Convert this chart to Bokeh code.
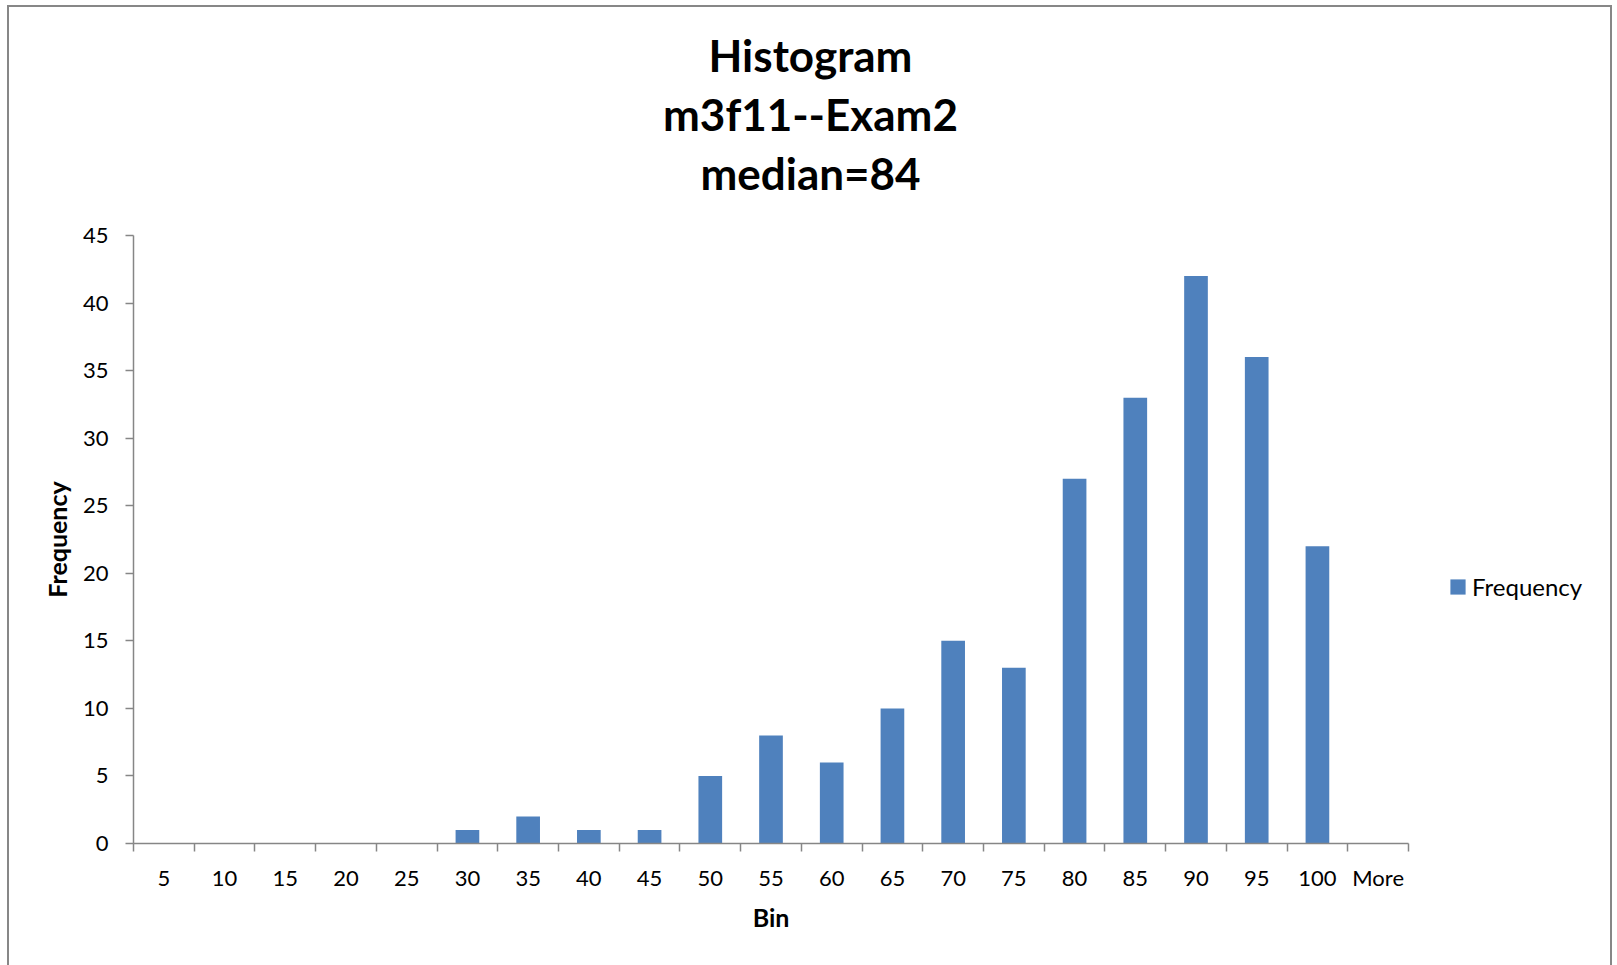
from bokeh.plotting import figure
from bokeh.models import (ColumnDataSource, FixedTicker, Label, Legend, LegendItem,
                          Range1d)
from bokeh.embed import file_html
from bokeh.resources import INLINE

# ---- data ----
bins = ["5", "10", "15", "20", "25", "30", "35", "40", "45", "50", "55",
        "60", "65", "70", "75", "80", "85", "90", "95", "100", "More"]
frequency = [0, 0, 0, 0, 0, 1, 2, 1, 1, 5, 8, 6, 10, 15, 13, 27, 33, 42, 36, 22, 0]
title_lines = ["Histogram", "m3f11--Exam2", "median=84"]
y_ticks = [0, 5, 10, 15, 20, 25, 30, 35, 40, 45]

FONT = "Lato"
AXIS_GREY = "#868686"
BAR_BLUE = "#4F81BD"
BORDER = "#878787"

n = len(bins)
centers = [2 * i + 1 for i in range(n)]
boundaries = [2 * i for i in range(n + 1)]

src = ColumnDataSource(dict(x=centers, top=frequency, bin=bins))

p = figure(width=1617, height=965,
           frame_width=1275, frame_height=608,
           x_range=Range1d(0, 2 * n), y_range=Range1d(0, 45),
           output_backend="svg", toolbar_location=None,
           min_border_left=133, min_border_right=209,
           min_border_top=235, min_border_bottom=122)
# chart-area border (left, top, right; bottom edge lies below the window)
g = f"linear-gradient({BORDER},{BORDER})"
p.styles = {"background": (f"{g} 7px 5px / 2px 100% no-repeat, "
                           f"{g} 7px 5px / 1605px 2px no-repeat, "
                           f"{g} 1610px 5px / 2px 100% no-repeat, white")}
p.outline_line_color = None
p.xgrid.grid_line_color = None
p.ygrid.grid_line_color = None
p.background_fill_color = None
p.border_fill_color = None

r = p.vbar(x="x", top="top", bottom=0, width=0.78, source=src,
           fill_color=BAR_BLUE, line_color=None)

# x axis: labels at centres, tick marks at category boundaries
xa = p.xaxis[0]
xa.ticker = FixedTicker(ticks=centers, minor_ticks=boundaries)
xa.major_label_overrides = {c: b for c, b in zip(centers, bins)}
xa.major_tick_out = 0
xa.major_tick_in = 0
xa.minor_tick_out = 8
xa.minor_tick_in = 0
xa.minor_tick_line_color = AXIS_GREY
xa.minor_tick_line_width = 1.5
xa.axis_label = "Bin"
xa.major_label_standoff = 12

ya = p.yaxis[0]
ya.ticker = FixedTicker(ticks=y_ticks, minor_ticks=[])
ya.major_tick_out = 8
ya.major_tick_in = 0
ya.major_tick_line_color = AXIS_GREY
ya.major_tick_line_width = 1.5
ya.minor_tick_line_color = None
ya.axis_label = "Frequency"
ya.major_label_standoff = 17
ya.major_label_orientation = "horizontal"

for ax in (xa, ya):
    ax.axis_line_color = AXIS_GREY
    ax.axis_line_width = 1.5
    ax.major_label_text_font = FONT
    ax.major_label_text_font_size = "22px"
    ax.major_label_text_color = "black"
    ax.axis_label_text_font = FONT
    ax.axis_label_text_font_size = "25px"
    ax.axis_label_text_font_style = "bold"
    ax.axis_label_text_color = "black"
    ax.axis_label_standoff = 8

# title, centred on the whole chart (placed in the panel above the frame)
title = Label(x=677, y=121.5, x_units="screen", y_units="screen",
              text="\n".join(title_lines), text_align="center",
              text_baseline="middle", text_line_height=1.13,
              text_font=FONT, text_font_size="44px",
              text_font_style="bold", text_color="black")
p.add_layout(title, "above")

legend = Legend(items=[LegendItem(label="Frequency", renderers=[r])],
                location=(40, 242.5), padding=0, margin=0,
                glyph_width=19, glyph_height=19, label_standoff=5,
                label_text_font=FONT, label_text_font_size="24px",
                label_text_color="black",
                border_line_color=None, background_fill_color=None)
p.add_layout(legend, "right")

open("out.html", "w").write(file_html(p, INLINE))
